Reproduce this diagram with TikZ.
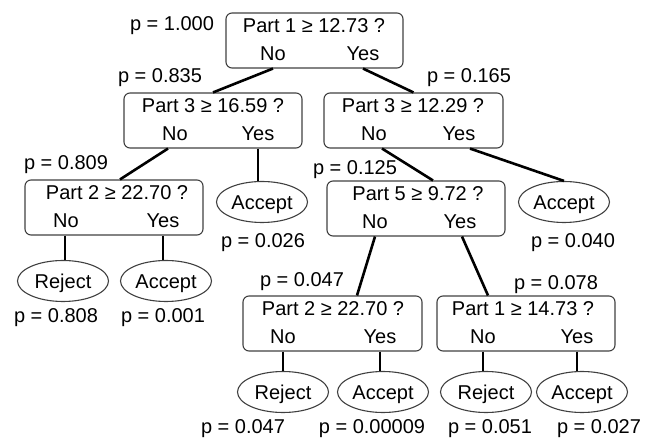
\documentclass[tikz,border=0pt]{standalone}
\usepackage{fontspec}
\setmainfont{Liberation Sans}
\usetikzlibrary{shapes.geometric,calc}
\tikzset{
  dbox/.style={draw=black!75, line width=1.1pt, rounded corners=6pt, minimum height=55pt, inner sep=0pt},
  leaf/.style={draw=black!75, line width=1.1pt, ellipse, minimum width=91pt, minimum height=41pt, inner sep=0pt, text height=14.3pt, text depth=0pt},
  txt/.style={anchor=base, inner sep=0pt},
  edge/.style={line width=2.6pt, black},
}
\begin{document}
\begin{tikzpicture}[x=1pt,y=-1pt, font=\fontsize{20}{24}\selectfont]
\useasboundingbox (0,0) rectangle (656,438);
% decision boxes
\node[dbox, minimum width=177pt] (root) at (314.5,40.5) {};
\node[dbox, minimum width=178pt] (n3L) at (213,120.5) {};
\node[dbox, minimum width=179pt] (n3R) at (413.5,120.5) {};
\node[dbox, minimum width=178pt] (n2L) at (114,207.5) {};
\node[dbox, minimum width=178pt] (n5) at (416,208.5) {};
\node[dbox, minimum width=179pt] (n2B) at (332.5,323.5) {};
\node[dbox, minimum width=178pt] (n1B) at (526,323.5) {};
% box texts
\node[txt] (rootQ) at (314,33) {Part 1 ≥ 12.73 ?};
\node[txt] (rootNo) at (273,61) {No};
\node[txt] (rootYes) at (363,61) {Yes};
\node[txt] (n3LQ) at (213,113) {Part 3 ≥ 16.59 ?};
\node[txt] (n3LNo) at (175,141) {No};
\node[txt] (n3LYes) at (258,141) {Yes};
\node[txt] (n3RQ) at (413,113) {Part 3 ≥ 12.29 ?};
\node[txt] (n3RNo) at (374,141) {No};
\node[txt] (n3RYes) at (459,141) {Yes};
\node[txt] (n2LQ) at (117,200) {Part 2 ≥ 22.70 ?};
\node[txt] (n2LNo) at (66,228) {No};
\node[txt] (n2LYes) at (163,228) {Yes};
\node[txt] (n5Q) at (418,201) {Part 5 ≥ 9.72 ?};
\node[txt] (n5No) at (375,229) {No};
\node[txt] (n5Yes) at (460,229) {Yes};
\node[txt] (n2BQ) at (333,316) {Part 2 ≥ 22.70 ?};
\node[txt] (n2BNo) at (283,344) {No};
\node[txt] (n2BYes) at (380,344) {Yes};
\node[txt] (n1BQ) at (523,316) {Part 1 ≥ 14.73 ?};
\node[txt] (n1BNo) at (483,344) {No};
\node[txt] (n1BYes) at (577,344) {Yes};
% leaves
\node[leaf] (acc1) at (262,202) {Accept};
\node[leaf] (acc2) at (564,202) {Accept};
\node[leaf] (rej1) at (63,281) {Reject};
\node[leaf] (acc3) at (166,281) {Accept};
\node[leaf] (rej2) at (283,392) {Reject};
\node[leaf] (acc4) at (383,392) {Accept};
\node[leaf] (rej3) at (486,392) {Reject};
\node[leaf] (acc5) at (582,392) {Accept};
% probabilities
\node[txt] (p1) at (172,31) {p = 1.000};
\node[txt] (p2) at (160,83) {p = 0.835};
\node[txt] (p3) at (469,83) {p = 0.165};
\node[txt] (p4) at (66,170) {p = 0.809};
\node[txt] (p5) at (263,248) {p = 0.026};
\node[txt] (p6) at (355,175) {p = 0.125};
\node[txt] (p7) at (573,248) {p = 0.040};
\node[txt] (p8) at (56,323) {p = 0.808};
\node[txt] (p9) at (163,323) {p = 0.001};
\node[txt] (p10) at (302,287) {p = 0.047};
\node[txt] (p11) at (556,290) {p = 0.078};
\node[txt] (p12) at (243,433) {p = 0.047};
\node[txt] (p13) at (372,433) {p = 0.00009};
\node[txt] (p14) at (490,433) {p = 0.051};
\node[txt] (p15) at (599,433) {p = 0.027};
% connectors
\draw[edge] (rootNo |- root.south) -- (n3L.north);
\draw[edge] (rootYes |- root.south) -- (n3R.north);
\draw[edge] ($(n3LNo |- n3L.south)+(-7,0)$) -- ($(n2L.north)+(6,0)$);
\draw[edge] (n3LYes |- n3L.south) -- (n3LYes |- acc1.north);
\draw[edge] ($(n3RNo |- n3R.south)+(8,0)$) -- ($(n5.north)+(17,0)$);
\draw[edge] ($(n3RYes |- n3R.south)+(11,0)$) -- (acc2.north);
\draw[edge] ($(n2LNo |- n2L.south)+(-1,0)$) -- ($(n2LNo |- rej1.north)+(-1,0)$);
\draw[edge] (n2LYes |- n2L.south) -- (n2LYes |- acc3.north);
\draw[edge] (n5No |- n5.south) -- ($(n2B.north)+(24.5,0)$);
\draw[edge] ($(n5Yes |- n5.south)+(2,0)$) -- ($(n1B.north)+(-38,0)$);
\draw[edge] (n2BNo |- n2B.south) -- (n2BNo |- rej2.north);
\draw[edge] (n2BYes |- n2B.south) -- (n2BYes |- acc4.north);
\draw[edge] (n1BNo |- n1B.south) -- (n1BNo |- rej3.north);
\draw[edge] (n1BYes |- n1B.south) -- (n1BYes |- acc5.north);
\end{tikzpicture}
\end{document}
